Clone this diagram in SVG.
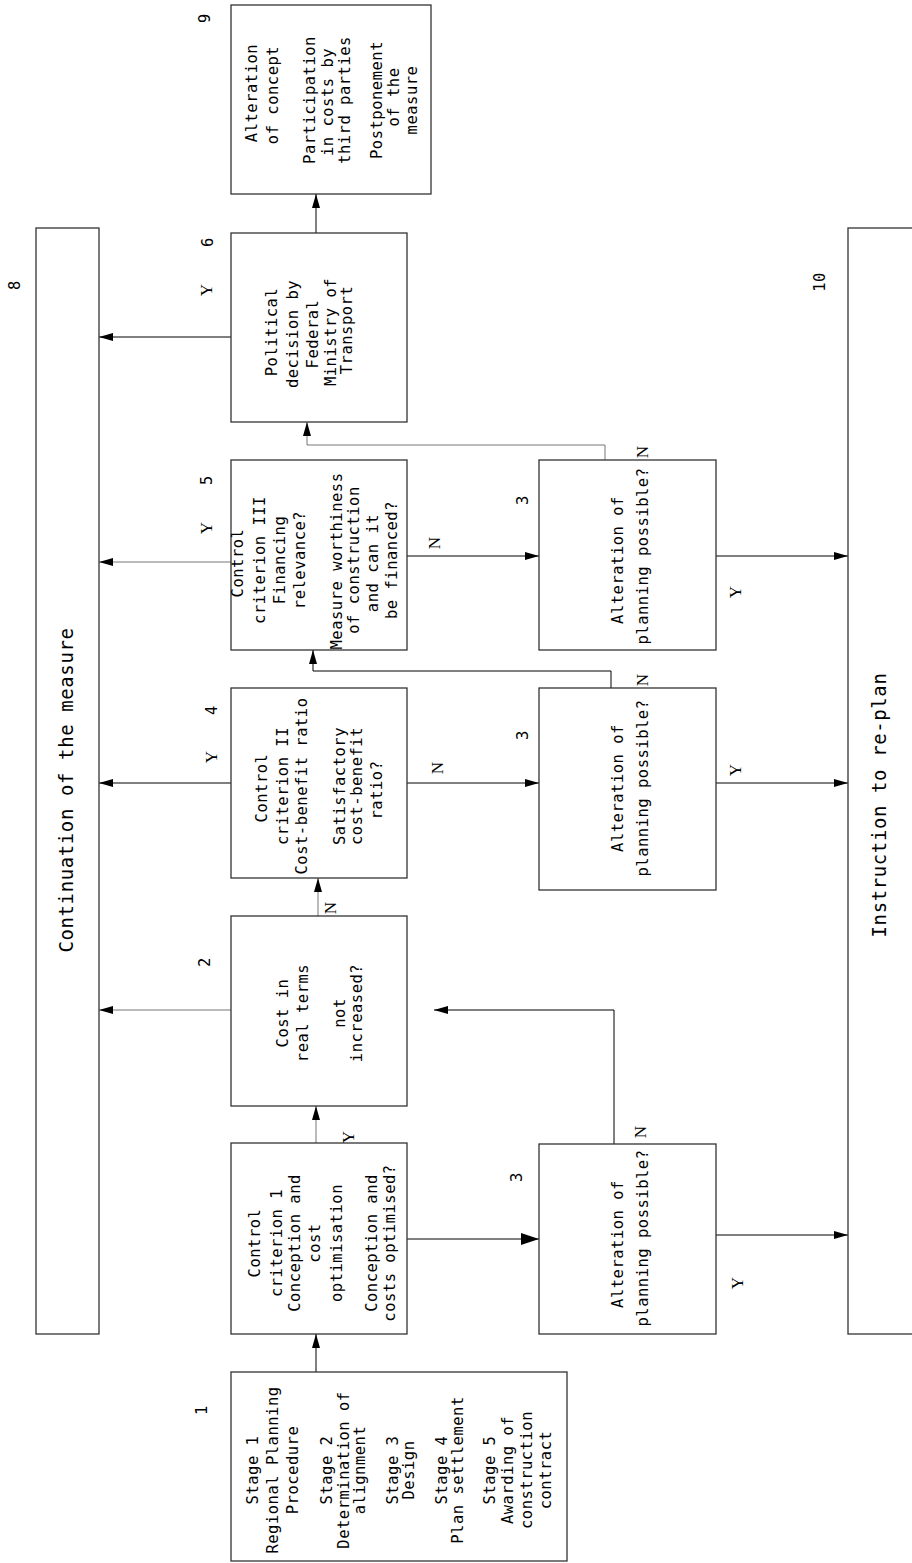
<svg xmlns="http://www.w3.org/2000/svg" width="912" height="1563" viewBox="0 0 912 1563">
<defs>
<marker id="ah" markerWidth="14" markerHeight="8" refX="14" refY="4" orient="auto" markerUnits="userSpaceOnUse"><path d="M0,0 L14,4 L0,8 Z" fill="#000"/></marker>
<marker id="ahb" markerWidth="18" markerHeight="12" refX="18" refY="6" orient="auto" markerUnits="userSpaceOnUse"><path d="M0,0 L18,6 L0,12 Z" fill="#000"/></marker>
<style>
.box{fill:#fff;stroke:#333;stroke-width:1.3}
.t{font-family:"DejaVu Sans Mono","Liberation Mono",monospace;font-size:15.5px;letter-spacing:0.5px;fill:#000;text-anchor:middle;dominant-baseline:central}
.big{font-family:"DejaVu Sans Mono","Liberation Mono",monospace;font-size:19px;letter-spacing:0.6px;fill:#000;text-anchor:middle;dominant-baseline:central}
.yn{font-family:"Liberation Serif","DejaVu Serif",serif;font-size:17px;fill:#000;text-anchor:middle;dominant-baseline:central}
.c{fill:none;stroke:#000;stroke-width:1}
.g{fill:none;stroke:#777;stroke-width:1}
</style>
</defs>
<rect width="912" height="1563" fill="#fff"/>

<g id="connectors">
<path class="c" d="M316,1372 V1334" marker-end="url(#ah)"/>
<path class="g" d="M316,1143 V1106" marker-end="url(#ah)"/>
<path class="g" d="M318,916 V878" marker-end="url(#ah)"/>
<path class="c" d="M611,688 V671 H313 V650" marker-end="url(#ah)"/>
<path class="g" d="M605,460 V445 H307 V422" marker-end="url(#ah)"/>
<path class="c" d="M316,233 V194" marker-end="url(#ah)"/>
<path class="c" d="M407,1239 H539" marker-end="url(#ahb)"/>
<path class="c" d="M716,1235 H848" marker-end="url(#ah)"/>
<path class="c" d="M614,1144 V1010 H434" marker-end="url(#ah)"/>
<path class="g" d="M231,1010 H99" marker-end="url(#ah)"/>
<path class="c" d="M231,783 H99" marker-end="url(#ah)"/>
<path class="g" d="M231,562 H99" marker-end="url(#ah)"/>
<path class="c" d="M231,337 H99" marker-end="url(#ah)"/>
<path class="c" d="M407,783 H539" marker-end="url(#ah)"/>
<path class="c" d="M716,783 H848" marker-end="url(#ah)"/>
<path class="c" d="M407,556 H539" marker-end="url(#ah)"/>
<path class="c" d="M716,556 H848" marker-end="url(#ah)"/>
</g>

<g id="node-1">
<rect class="box" x="231" y="1372" width="336" height="189"/>
<text class="t" transform="translate(253,1470) rotate(-90)">Stage 1</text>
<text class="t" transform="translate(273,1470) rotate(-90)">Regional Planning</text>
<text class="t" transform="translate(293,1470) rotate(-90)">Procedure</text>
<text class="t" transform="translate(327,1470) rotate(-90)">Stage 2</text>
<text class="t" transform="translate(344,1470) rotate(-90)">Determination of</text>
<text class="t" transform="translate(360,1470) rotate(-90)">alignment</text>
<text class="t" transform="translate(393,1470) rotate(-90)">Stage 3</text>
<text class="t" transform="translate(409,1470) rotate(-90)">Design</text>
<text class="t" transform="translate(442,1470) rotate(-90)">Stage 4</text>
<text class="t" transform="translate(458,1470) rotate(-90)">Plan settlement</text>
<text class="t" transform="translate(490,1470) rotate(-90)">Stage 5</text>
<text class="t" transform="translate(508,1470) rotate(-90)">Awarding of</text>
<text class="t" transform="translate(527,1470) rotate(-90)">construction</text>
<text class="t" transform="translate(546,1470) rotate(-90)">contract</text>
<text class="t" transform="translate(202,1410) rotate(-90)">1</text>
</g>

<g id="node-cc1">
<rect class="box" x="231" y="1143" width="176" height="191"/>
<text class="t" transform="translate(255,1243) rotate(-90)">Control</text>
<text class="t" transform="translate(277,1243) rotate(-90)">criterion 1</text>
<text class="t" transform="translate(295,1243) rotate(-90)">Conception and</text>
<text class="t" transform="translate(315,1243) rotate(-90)">cost</text>
<text class="t" transform="translate(337,1243) rotate(-90)">optimisation</text>
<text class="t" transform="translate(372,1243) rotate(-90)">Conception and</text>
<text class="t" transform="translate(390,1243) rotate(-90)">costs optimised?</text>
<text class="yn" transform="translate(348,1137) rotate(-90)">Y</text>
</g>

<g id="node-2">
<rect class="box" x="231" y="916" width="176" height="190"/>
<text class="t" transform="translate(283,1013) rotate(-90)">Cost in</text>
<text class="t" transform="translate(303,1013) rotate(-90)">real terms</text>
<text class="t" transform="translate(340,1013) rotate(-90)">not</text>
<text class="t" transform="translate(357,1013) rotate(-90)">increased?</text>
<text class="t" transform="translate(205,962) rotate(-90)">2</text>
<text class="yn" transform="translate(330,908) rotate(-90)">N</text>
</g>

<g id="node-4">
<rect class="box" x="231" y="688" width="176" height="190"/>
<text class="t" transform="translate(262,788) rotate(-90)">Control</text>
<text class="t" transform="translate(283,786) rotate(-90)">criterion II</text>
<text class="t" transform="translate(302,786) rotate(-90)">Cost-benefit ratio</text>
<text class="t" transform="translate(340,786) rotate(-90)">Satisfactory</text>
<text class="t" transform="translate(357,786) rotate(-90)">cost-benefit</text>
<text class="t" transform="translate(377,790) rotate(-90)">ratio?</text>
<text class="t" transform="translate(212,710) rotate(-90)">4</text>
<text class="yn" transform="translate(211,757) rotate(-90)">Y</text>
<text class="yn" transform="translate(437,768) rotate(-90)">N</text>
</g>

<g id="node-5">
<rect class="box" x="231" y="460" width="176" height="190"/>
<text class="t" transform="translate(238,563) rotate(-90)">Control</text>
<text class="t" transform="translate(260,560) rotate(-90)">criterion III</text>
<text class="t" transform="translate(280,560) rotate(-90)">Financing</text>
<text class="t" transform="translate(300,560) rotate(-90)">relevance?</text>
<text class="t" transform="translate(337,561) rotate(-90)">Measure worthiness</text>
<text class="t" transform="translate(354,560) rotate(-90)">of construction</text>
<text class="t" transform="translate(373,563) rotate(-90)">and can it</text>
<text class="t" transform="translate(392,560) rotate(-90)">be financed?</text>
<text class="t" transform="translate(207,480) rotate(-90)">5</text>
<text class="yn" transform="translate(206,528) rotate(-90)">Y</text>
<text class="yn" transform="translate(434,543) rotate(-90)">N</text>
</g>

<g id="node-6">
<rect class="box" x="231" y="233" width="176" height="189"/>
<text class="t" transform="translate(272,332) rotate(-90)">Political</text>
<text class="t" transform="translate(293,334) rotate(-90)">decision by</text>
<text class="t" transform="translate(313,334) rotate(-90)">Federal</text>
<text class="t" transform="translate(331,332) rotate(-90)">Ministry of</text>
<text class="t" transform="translate(347,330) rotate(-90)">Transport</text>
<text class="t" transform="translate(208,242) rotate(-90)">6</text>
<text class="yn" transform="translate(206,290) rotate(-90)">Y</text>
</g>

<g id="node-9">
<rect class="box" x="231" y="5" width="200" height="189"/>
<text class="t" transform="translate(252,93) rotate(-90)">Alteration</text>
<text class="t" transform="translate(273,95) rotate(-90)">of concept</text>
<text class="t" transform="translate(310,100) rotate(-90)">Participation</text>
<text class="t" transform="translate(328,102) rotate(-90)">in costs by</text>
<text class="t" transform="translate(345,100) rotate(-90)">third parties</text>
<text class="t" transform="translate(377,100) rotate(-90)">Postponement</text>
<text class="t" transform="translate(394,97) rotate(-90)">of the</text>
<text class="t" transform="translate(412,100) rotate(-90)">measure</text>
<text class="t" transform="translate(205,18) rotate(-90)">9</text>
</g>

<g id="node-3a">
<rect class="box" x="539" y="1144" width="177" height="190"/>
<text class="t" transform="translate(618,1244) rotate(-90)">Alteration of</text>
<text class="t" transform="translate(643,1238) rotate(-90)">planning possible?</text>
<text class="t" transform="translate(517,1177) rotate(-90)">3</text>
<text class="yn" transform="translate(640,1132) rotate(-90)">N</text>
<text class="yn" transform="translate(737,1283) rotate(-90)">Y</text>
</g>

<g id="node-3b">
<rect class="box" x="539" y="688" width="177" height="202"/>
<text class="t" transform="translate(618,788) rotate(-90)">Alteration of</text>
<text class="t" transform="translate(643,788) rotate(-90)">planning possible?</text>
<text class="t" transform="translate(523,735) rotate(-90)">3</text>
<text class="yn" transform="translate(642,680) rotate(-90)">N</text>
<text class="yn" transform="translate(735,770) rotate(-90)">Y</text>
</g>

<g id="node-3c">
<rect class="box" x="539" y="460" width="177" height="190"/>
<text class="t" transform="translate(618,560) rotate(-90)">Alteration of</text>
<text class="t" transform="translate(643,556) rotate(-90)">planning possible?</text>
<text class="t" transform="translate(523,500) rotate(-90)">3</text>
<text class="yn" transform="translate(642,452) rotate(-90)">N</text>
<text class="yn" transform="translate(735,592) rotate(-90)">Y</text>
</g>

<g id="node-8">
<rect class="box" x="36" y="228" width="63" height="1106"/>
<text class="big" transform="translate(66,790) rotate(-90)">Continuation of the measure</text>
<text class="t" transform="translate(15,285) rotate(-90)">8</text>
</g>

<g id="node-10">
<rect class="box" x="848" y="228" width="80" height="1106"/>
<text class="big" transform="translate(879,805) rotate(-90)">Instruction to re-plan</text>
<text class="t" transform="translate(820,282) rotate(-90)">10</text>
</g>
</svg>
